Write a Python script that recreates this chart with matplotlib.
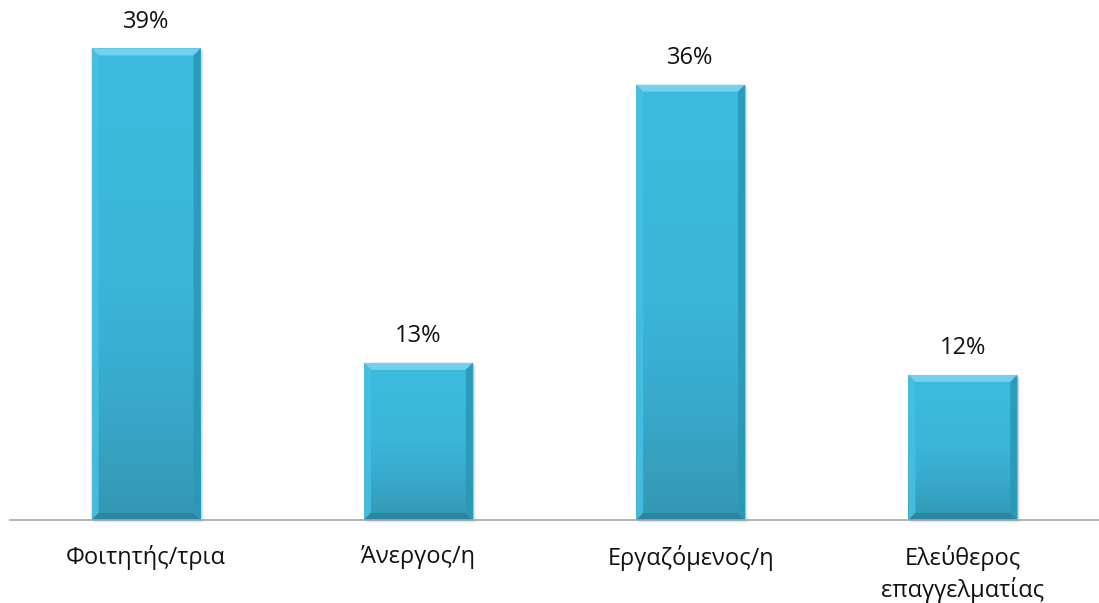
import matplotlib.pyplot as plt
import numpy as np
from matplotlib.patches import Polygon, Rectangle
from matplotlib.colors import LinearSegmentedColormap

categories = ["Φοιτητής/τρια", "Άνεργος/η", "Εργαζόμενος/η", "Ελεύθερος\nεπαγγελματίας"]
values = [39, 13, 36, 12]
value_labels = ["39%", "13%", "36%", "12%"]

plt.rcParams['font.family'] = ['Open Sans', 'DejaVu Sans']

W, H = 1099, 603
fig = plt.figure(figsize=(W / 100, H / 100), dpi=100)
ax = fig.add_axes([10 / W, 83 / H, 1089 / W, 520 / H])
x = np.arange(len(categories))

face = "#3bb8dc"
bars = ax.bar(x, values, width=0.40, color=face, zorder=3)
ax.set_xlim(-0.5, 3.5)
ax.set_ylim(0, 43)

# pixel -> data scale for the bevel and shadow
fig.canvas.draw()
inv = ax.transData.inverted()
p0 = inv.transform((0, 0))
p1 = inv.transform((1, 1))
px_x = p1[0] - p0[0]
px_y = p1[1] - p0[1]

cmap = LinearSegmentedColormap.from_list(
    "face", [(0.0, "#3397b2"), (0.25, "#38a9ca"), (0.5, "#3bb5d8"), (1.0, "#3dbbde")])
grad = np.linspace(0, 1, 256).reshape(-1, 1)

for b in bars:
    x0, w, h = b.get_x(), b.get_width(), b.get_height()
    x1 = x0 + w
    # soft drop shadow
    for k, a in [(4, 0.04), (3, 0.06), (2, 0.08), (1, 0.10)]:
        ax.add_patch(Rectangle((x0 + k * px_x * 0.7, -k * px_y * 0.7), w, h,
                               facecolor="#000000", alpha=a, edgecolor="none", zorder=2,
                               clip_on=False))
    # vertical shading on the face
    im = ax.imshow(grad, extent=(x0, x1, 0, h), origin="lower", aspect="auto",
                   cmap=cmap, zorder=3.5)
    im.set_clip_path(b)
    dx, dy = 7 * px_x, 7 * px_y
    polys = [
        ([(x0, h), (x1, h), (x1 - dx, h - dy), (x0 + dx, h - dy)], "#74d4ef", 0.95),
        ([(x0, 0), (x0, h), (x0 + dx, h - dy), (x0 + dx, dy)], "#45bfe2", 0.9),
        ([(x1, 0), (x1, h), (x1 - dx, h - dy), (x1 - dx, dy)], "#2b98b8", 0.9),
        ([(x0, 0), (x1, 0), (x1 - dx, dy), (x0 + dx, dy)], "#2a85a0", 0.95),
    ]
    for pts, c, a in polys:
        ax.add_patch(Polygon(pts, closed=True, facecolor=c, alpha=a,
                             edgecolor="none", zorder=4))

for xi, v, lab in zip(x, values, value_labels):
    ax.annotate(lab, (xi, v), xytext=(0, 19), textcoords="offset points",
                ha="center", va="center", fontsize=17, color="#111111")

for s in ["top", "left", "right"]:
    ax.spines[s].set_visible(False)
ax.spines["bottom"].set_color("#a6a6a6")
ax.spines["bottom"].set_linewidth(1.2)
ax.spines["bottom"].set_zorder(5)
ax.set_yticks([])
ax.set_xticks(x, categories)
ax.tick_params(axis="x", length=0, pad=18, labelsize=17, labelcolor="#111111")
for t in ax.get_xticklabels():
    t.set_linespacing(1.3)

fig.savefig("out.png", dpi=100)
